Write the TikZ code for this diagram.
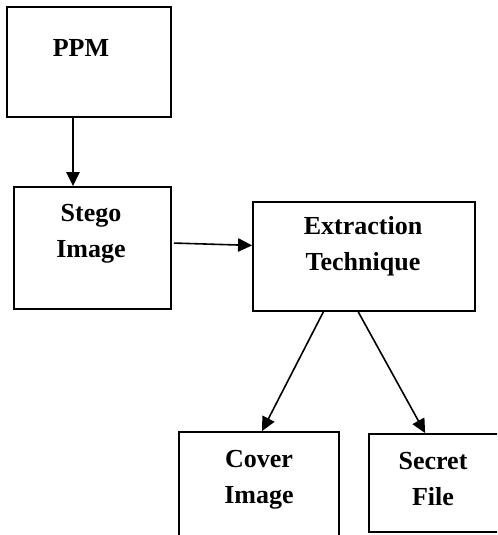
\documentclass[tikz,border=0pt]{standalone}
\usepackage{fontspec}
\setmainfont{Liberation Serif}
\usetikzlibrary{arrows.meta,positioning,fit}

\begin{document}
\begin{tikzpicture}[x=0.75pt,y=-0.75pt,>={Triangle[length=10.5pt,width=10pt]},
  box/.style={draw,line width=1.4pt,inner sep=0pt},
  txt/.style={font=\bfseries\fontsize{19.5}{26.5}\selectfont,align=center,anchor=base,inner sep=0pt},
  arr/.style={->,line width=1.2pt}]
\useasboundingbox (0,0) rectangle (497,535);
\clip (0,0) rectangle (497,535);
\node[box,fit={(7,7) (171,117)}] (ppm) {};
\node[box,fit={(14,187) (171,309)}] (stego) {};
\node[box,fit={(253,202) (475,311)}] (ext) {};
\node[box,fit={(179,432) (339,560)}] (cover) {};
\node[box,fit={(369,434) (520,532)}] (secret) {};
% anchor=base sits on the last line
\node[txt] (ppmt) at (81,56) {PPM};
\node[txt] (stegot) at (91,257) {Stego\\Image};
\node[txt] (extt) at (363,270) {Extraction\\Technique};
\node[txt] (covert) at (259,503) {Cover\\Image};
\node[txt] (secrett) at (433,505) {Secret\\File};
\draw[arr] ([xshift=-12pt]ppm.south) -- ([xshift=-12pt]ppm.south |- stego.north);
\draw[arr] ([xshift=1.5pt,yshift=3.7pt]stego.east) -- ([yshift=8.3pt]ext.west);
\draw[arr] ([xshift=-30.5pt]ext.south) -- ([xshift=2.3pt]cover.north);
\draw[arr] ([xshift=-4.3pt]ext.south) -- ([xshift=42.8pt]secret.north west);
\end{tikzpicture}
\end{document}
